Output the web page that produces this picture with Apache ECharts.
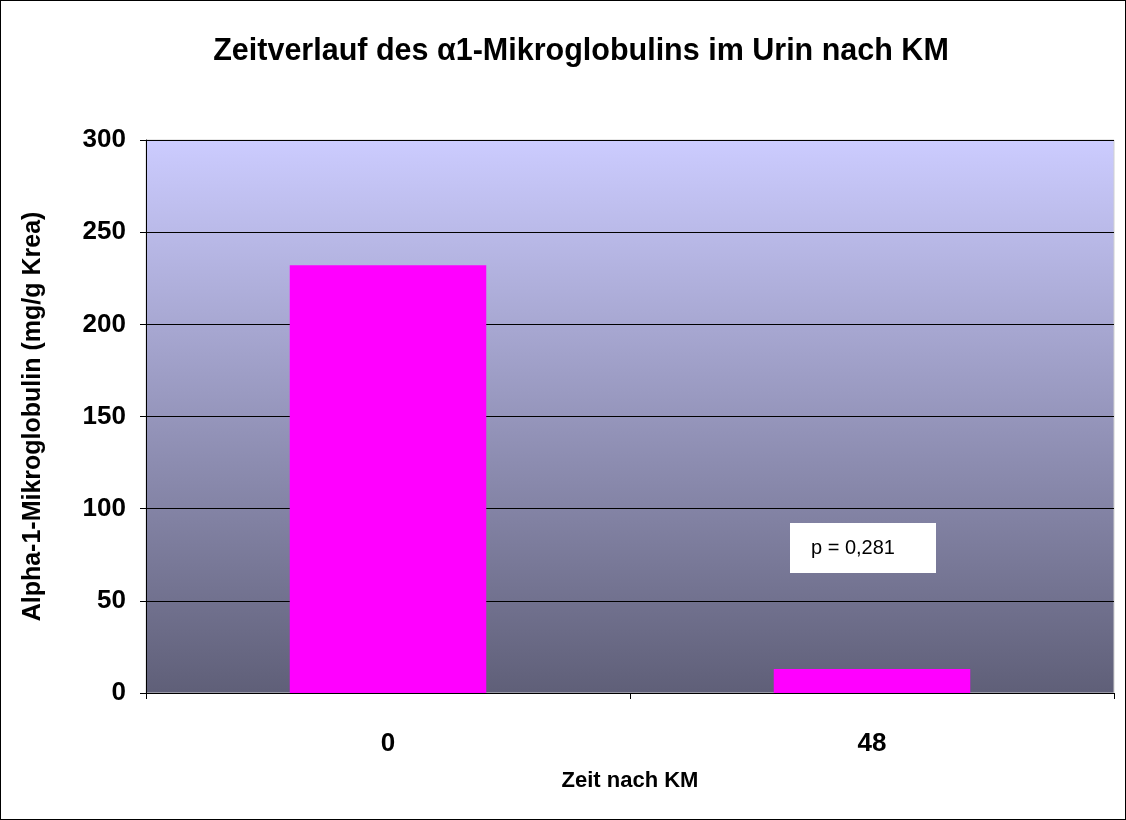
<!DOCTYPE html>
<html>
<head>
<meta charset="utf-8">
<script src="https://cdn.jsdelivr.net/npm/echarts@6/dist/echarts.min.js"></script>
<style>
html,body{margin:0;padding:0;background:#fff;}
#chart{width:1126px;height:820px;box-sizing:border-box;border:1px solid #000;}
</style>
</head>
<body>
<div id="chart"></div>
<script>
const categories = ['0', '48'];
const values = [232, 13];
const yTicks = [0, 50, 100, 150, 200, 250, 300];
const titleText = 'Zeitverlauf des α1-Mikroglobulins im Urin nach KM';
const yAxisName = 'Alpha-1-Mikroglobulin (mg/g Krea)';
const xAxisName = 'Zeit nach KM';
const pLabel = 'p = 0,281';

const chart = echarts.init(document.getElementById('chart'));
const font = 'Liberation Sans, Arial, sans-serif';
chart.setOption({
  animation: false,
  title: {
    text: titleText, left: 575, top: 30, textAlign: 'center',
    textStyle: {fontFamily: font, fontSize: 30.5, fontWeight: 'bold', color: '#000'}
  },
  grid: {
    left: 145, right: 11, top: 139, bottom: 126,
    show: true,
    borderColor: '#d0d0d0', borderWidth: 1,
    backgroundColor: new echarts.graphic.LinearGradient(0, 0, 0, 1, [
      {offset: 0, color: '#ccccff'},
      {offset: 1, color: '#5f5f78'}
    ])
  },
  xAxis: {
    type: 'category', data: categories,
    name: xAxisName, nameLocation: 'middle', nameGap: 77,
    nameTextStyle: {fontFamily: font, fontSize: 22, fontWeight: 'bold', color: '#000'},
    axisLine: {lineStyle: {color: '#000', width: 1}},
    axisTick: {show: true, length: 6, lineStyle: {color: '#000'}},
    axisLabel: {fontFamily: font, fontSize: 26, fontWeight: 'bold', color: '#000', margin: 38}
  },
  yAxis: {
    type: 'value', min: yTicks[0], max: yTicks[yTicks.length-1], interval: 50,
    name: yAxisName, nameLocation: 'middle', nameGap: 100,
    nameTextStyle: {fontFamily: font, fontSize: 25, fontWeight: 'bold', color: '#000'},
    axisLine: {show: true, lineStyle: {color: '#000', width: 1}},
    axisTick: {show: true, length: 6, lineStyle: {color: '#000'}},
    axisLabel: {fontFamily: font, fontSize: 26, fontWeight: 'bold', color: '#000', margin: 20},
    splitLine: {show: true, lineStyle: {color: '#000', width: 1}}
  },
  series: [{
    type: 'bar', data: values, barWidth: '40.6%',
    itemStyle: {color: '#ff00ff'}
  }],
  graphic: [{
    type: 'group', left: 789, top: 522,
    children: [
      {type: 'rect', shape: {x: 0, y: 0, width: 146, height: 50}, style: {fill: '#fff'}},
      {type: 'text', x: 21, y: 25, style: {text: pLabel, fontFamily: font, fontSize: 20, fill: '#000', verticalAlign: 'middle'}}
    ]
  }]
});
</script>
</body>
</html>
